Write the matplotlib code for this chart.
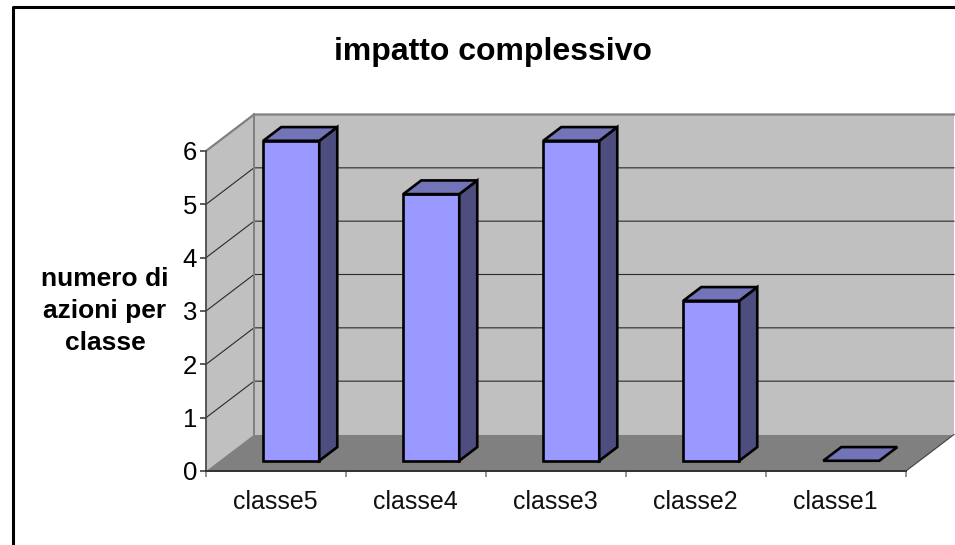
# grafico a barre 3D finto, stile Excel
import matplotlib
matplotlib.use("Agg")
import matplotlib.pyplot as plt
from matplotlib.patches import Polygon

plt.rcParams['font.family'] = ['Liberation Sans', 'DejaVu Sans']

categories = ['classe5', 'classe4', 'classe3', 'classe2', 'classe1']
values = [6, 5, 6, 3, 0]
y_ticks = [0, 1, 2, 3, 4, 5, 6]
title = 'impatto complessivo'
y_label = 'numero di\nazioni per\nclasse'

W, H = 955, 545
DX = 48 / 140   # profondita in unita di categoria
DY = 36.5 / 53.33 # profondita in unita di valore


def proj(x, v, d):
    return (x + d * DX, v + d * DY)


def poly(ax, pts, fc, ec='none', lw=0, z=1):
    ax.add_patch(Polygon(pts, closed=True, facecolor=fc, edgecolor=ec, linewidth=lw,
                         zorder=z, clip_on=False, joinstyle='miter'))


def main():
    fig = plt.figure(figsize=(W / 100, H / 100), dpi=100)
    # bordo esterno
    fig.add_artist(plt.Line2D([12.5 / W, 12.5 / W, 1], [0, 1 - 7 / H, 1 - 7 / H],
                              color='black', lw=2.2, transform=fig.transFigure))

    ax = fig.add_axes([206 / W, 1 - 471 / H, 700 / W, 320 / H])
    ax.set_xlim(0, len(categories))
    ax.set_ylim(0, 6)
    ax.patch.set_visible(False)
    for s in ['top', 'right', 'bottom']:
        ax.spines[s].set_visible(False)
    ax.spines['left'].set_color('#404040')
    ax.spines['left'].set_linewidth(1.2)

    n = len(categories)
    top = max(y_ticks)
    # pareti e pavimento
    poly(ax, [proj(0, 0, 0), proj(0, top, 0), proj(0, top, 1), proj(0, 0, 1)], '#C0C0C0')
    poly(ax, [proj(0, 0, 1), proj(0, top, 1), proj(n, top, 1), proj(n, 0, 1)], '#C0C0C0')
    poly(ax, [proj(0, 0, 0), proj(n, 0, 0), proj(n, 0, 1), proj(0, 0, 1)], '#808080')

    # griglia
    for t in y_ticks[1:-1]:
        a, b, c = proj(0, t, 0), proj(0, t, 1), proj(n, t, 1)
        ax.plot([a[0], b[0], c[0]], [a[1], b[1], c[1]], color='#2a2a2a', lw=0.8,
                zorder=2, clip_on=False)
    # bordi grigi delle pareti
    a, b, c, d = proj(0, top, 0), proj(0, top, 1), proj(n, top, 1), proj(0, 0, 1)
    ax.plot([a[0], b[0], c[0]], [a[1], b[1], c[1]], color='#808080', lw=1.6, zorder=2, clip_on=False)
    ax.plot([b[0], d[0]], [b[1], d[1]], color='#808080', lw=1.4, zorder=2, clip_on=False)
    a, b = proj(n, 0, 0), proj(n, 0, 1)
    ax.plot([a[0], b[0]], [a[1], b[1]], color='#404040', lw=0.8, zorder=2, clip_on=False)

    # barre
    d0, d1 = 0.28, 0.655
    bw = 0.4
    for i, v in enumerate(values):
        x0 = i + 0.313
        x1 = x0 + bw
        if v > 0:
            poly(ax, [proj(x0, 0, d0), proj(x1, 0, d0), proj(x1, v, d0), proj(x0, v, d0)],
                 '#9999FF', 'black', 1.9, 4)
            poly(ax, [proj(x1, 0, d0), proj(x1, 0, d1), proj(x1, v, d1), proj(x1, v, d0)],
                 '#4D4D80', 'black', 1.9, 4)
        poly(ax, [proj(x0, v, d0), proj(x1, v, d0), proj(x1, v, d1), proj(x0, v, d1)],
             '#7373B8', 'black', 1.9, 5)

    # assi
    ax.plot([0, n], [0, 0], color='#303030', lw=1.4, zorder=3, clip_on=False)
    ax.set_yticks(y_ticks)
    ax.set_yticklabels([str(t) for t in y_ticks])
    ax.tick_params(axis='y', labelsize=18.5, length=4.5, width=1.2, color='#404040', pad=2)
    ax.set_xticks(range(n + 1))
    ax.set_xticklabels([])
    ax.tick_params(axis='x', length=4.5, width=1.2, color='#808080')
    for i, c in enumerate(categories):
        ax.annotate(c, (i + 0.5, 0), xytext=(-1, -31), textcoords='offset pixels',
                    ha='center', va='center', fontsize=18, color='#111111',
                    annotation_clip=False)

    fig.text(493 / W, 1 - 52 / H, title, fontsize=23, fontweight='bold', ha='center', va='center')
    fig.text(105 / W, 1 - 311 / H, y_label, fontsize=19, fontweight='bold', ha='center',
             va='center', linespacing=1.4)

    fig.savefig('out.png', dpi=100)


if __name__ == '__main__':
    main()
